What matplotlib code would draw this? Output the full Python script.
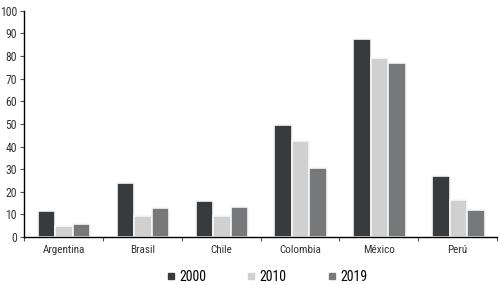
import numpy as np
import matplotlib
matplotlib.use("Agg")
import matplotlib.pyplot as plt
from matplotlib.lines import Line2D

# data
countries = ["Argentina", "Brasil", "Chile", "Colombia", "México", "Perú"]
years = ["2000", "2010", "2019"]
v2000 = [11.6, 24.0, 15.9, 49.6, 87.6, 27.0]
v2010 = [4.9, 9.3, 9.3, 42.5, 79.2, 16.4]
v2019 = [5.9, 12.8, 13.4, 30.5, 77.1, 11.9]
colors = ["#383b3e", "#d0d0d0", "#76787a"]

plt.rcParams["font.family"] = ["Roboto Condensed", "Open Sans Condensed",
                               "Liberation Sans Narrow", "DejaVu Sans"]
plt.rcParams["font.stretch"] = "condensed"

fig = plt.figure(figsize=(5.01, 2.85), dpi=100)
ax = fig.add_axes([0.048, 0.168, 0.944, 0.794])

x = np.arange(len(countries)) + 0.5
w = 0.222
for i, (vals, c) in enumerate(zip([v2000, v2010, v2019], colors)):
    ax.bar(x + (i - 1) * w + 0.01, vals, width=w, color=c,
           edgecolor="#f7f7f7", linewidth=1.2)

ax.set_xlim(0, len(countries))
ax.set_ylim(0, 100)
ax.set_yticks(np.arange(0, 101, 10))
ax.set_xticks(x)
ax.set_xticklabels(countries)
ax.set_xticks(np.arange(0, len(countries) + 1), minor=True)
ax.tick_params(axis="x", which="major", length=0, pad=6, labelsize=8, labelcolor="#333333")
ax.tick_params(axis="x", which="minor", length=3, width=0.8, direction="out", color="#555555")
ax.tick_params(axis="y", length=3, width=0.8, pad=2, labelsize=8.5, labelcolor="#333333", color="#555555")

for s in ["top", "right"]:
    ax.spines[s].set_visible(False)
ax.spines["left"].set_linewidth(1.0)
ax.spines["bottom"].set_linewidth(1.0)

handles = [Line2D([], [], marker="s", linestyle="", markersize=5, color=c) for c in colors]
fig.legend(handles, years, loc="lower center", bbox_to_anchor=(0.53, -0.04), ncol=3,
           frameon=False, fontsize=10, handletextpad=0.1, columnspacing=2.75,
           handlelength=1.0)

fig.savefig("out.png", dpi=100)
